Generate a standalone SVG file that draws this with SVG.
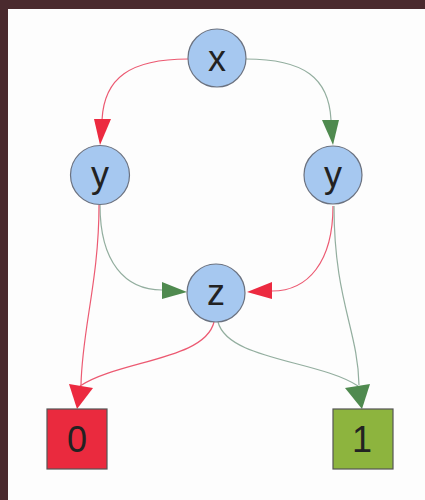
<svg xmlns="http://www.w3.org/2000/svg" width="425" height="500" viewBox="0 0 425 500">
<defs>
<style>
.node circle{fill:#a6c8f0;stroke:#6b7280;stroke-width:1.2}
.lbl{font-family:"Liberation Sans",Arial,sans-serif;font-size:36px;fill:#222;text-anchor:middle}
.lo{fill:none;stroke:#ec5a72;stroke-width:1.2}
.hi{fill:none;stroke:#93ae9f;stroke-width:1.2}
.ahr{fill:#ec2a40}
.ahg{fill:#4f8a4f}
</style>
</defs>
<rect x="0" y="0" width="425" height="500" fill="#fdfdfd"/>
<rect x="0" y="0" width="425" height="9" fill="#4a2a2e"/>
<rect x="0" y="0" width="8" height="500" fill="#4a2a2e"/>
<g id="connectors">
<path class="lo" d="M188,59 C130,59 104,78 102,120"/>
<polygon class="ahr" points="94,119 111,119 100,145"/>
<path class="hi" d="M246,59 C304,59 329,78 331,120"/>
<polygon class="ahg" points="322,120 339,120 333,145"/>
<path class="hi" d="M100,205 C100,262 125,290 162,290"/>
<polygon class="ahg" points="162,282 162,299 187,292"/>
<path class="lo" d="M333,206 C333,262 308,291 272,291"/>
<polygon class="ahr" points="272,282 272,299 247,292"/>
<path class="lo" d="M99,205 C99,280 82,330 81,385"/>
<path class="lo" d="M214,322 C205,360 120,360 80,386"/>
<polygon class="ahr" points="69,384 93,388 77,409"/>
<path class="hi" d="M334,206 C334,300 358,330 359,385"/>
<path class="hi" d="M218,322 C228,360 318,360 358,386"/>
<polygon class="ahg" points="345,388 370,384 362,409"/>
</g>
<g id="node-x" class="node"><circle cx="217" cy="58" r="29"/><text class="lbl" x="217" y="71">x</text></g>
<g id="node-y1" class="node"><circle cx="100" cy="175" r="29.5"/><text class="lbl" x="100" y="187">y</text></g>
<g id="node-y2" class="node"><circle cx="333" cy="175" r="29"/><text class="lbl" x="333" y="187">y</text></g>
<g id="node-z" class="node"><circle cx="216" cy="293" r="29"/><text class="lbl" x="216" y="305">z</text></g>
<g id="node-0"><rect x="47" y="409" width="60" height="60" fill="#ea2a3e" stroke="#555" stroke-width="1.2"/><text class="lbl" x="77" y="452">0</text></g>
<g id="node-1"><rect x="333" y="409" width="60" height="60" fill="#8db43e" stroke="#555" stroke-width="1.2"/><text class="lbl" x="362" y="452">1</text></g>
</svg>
